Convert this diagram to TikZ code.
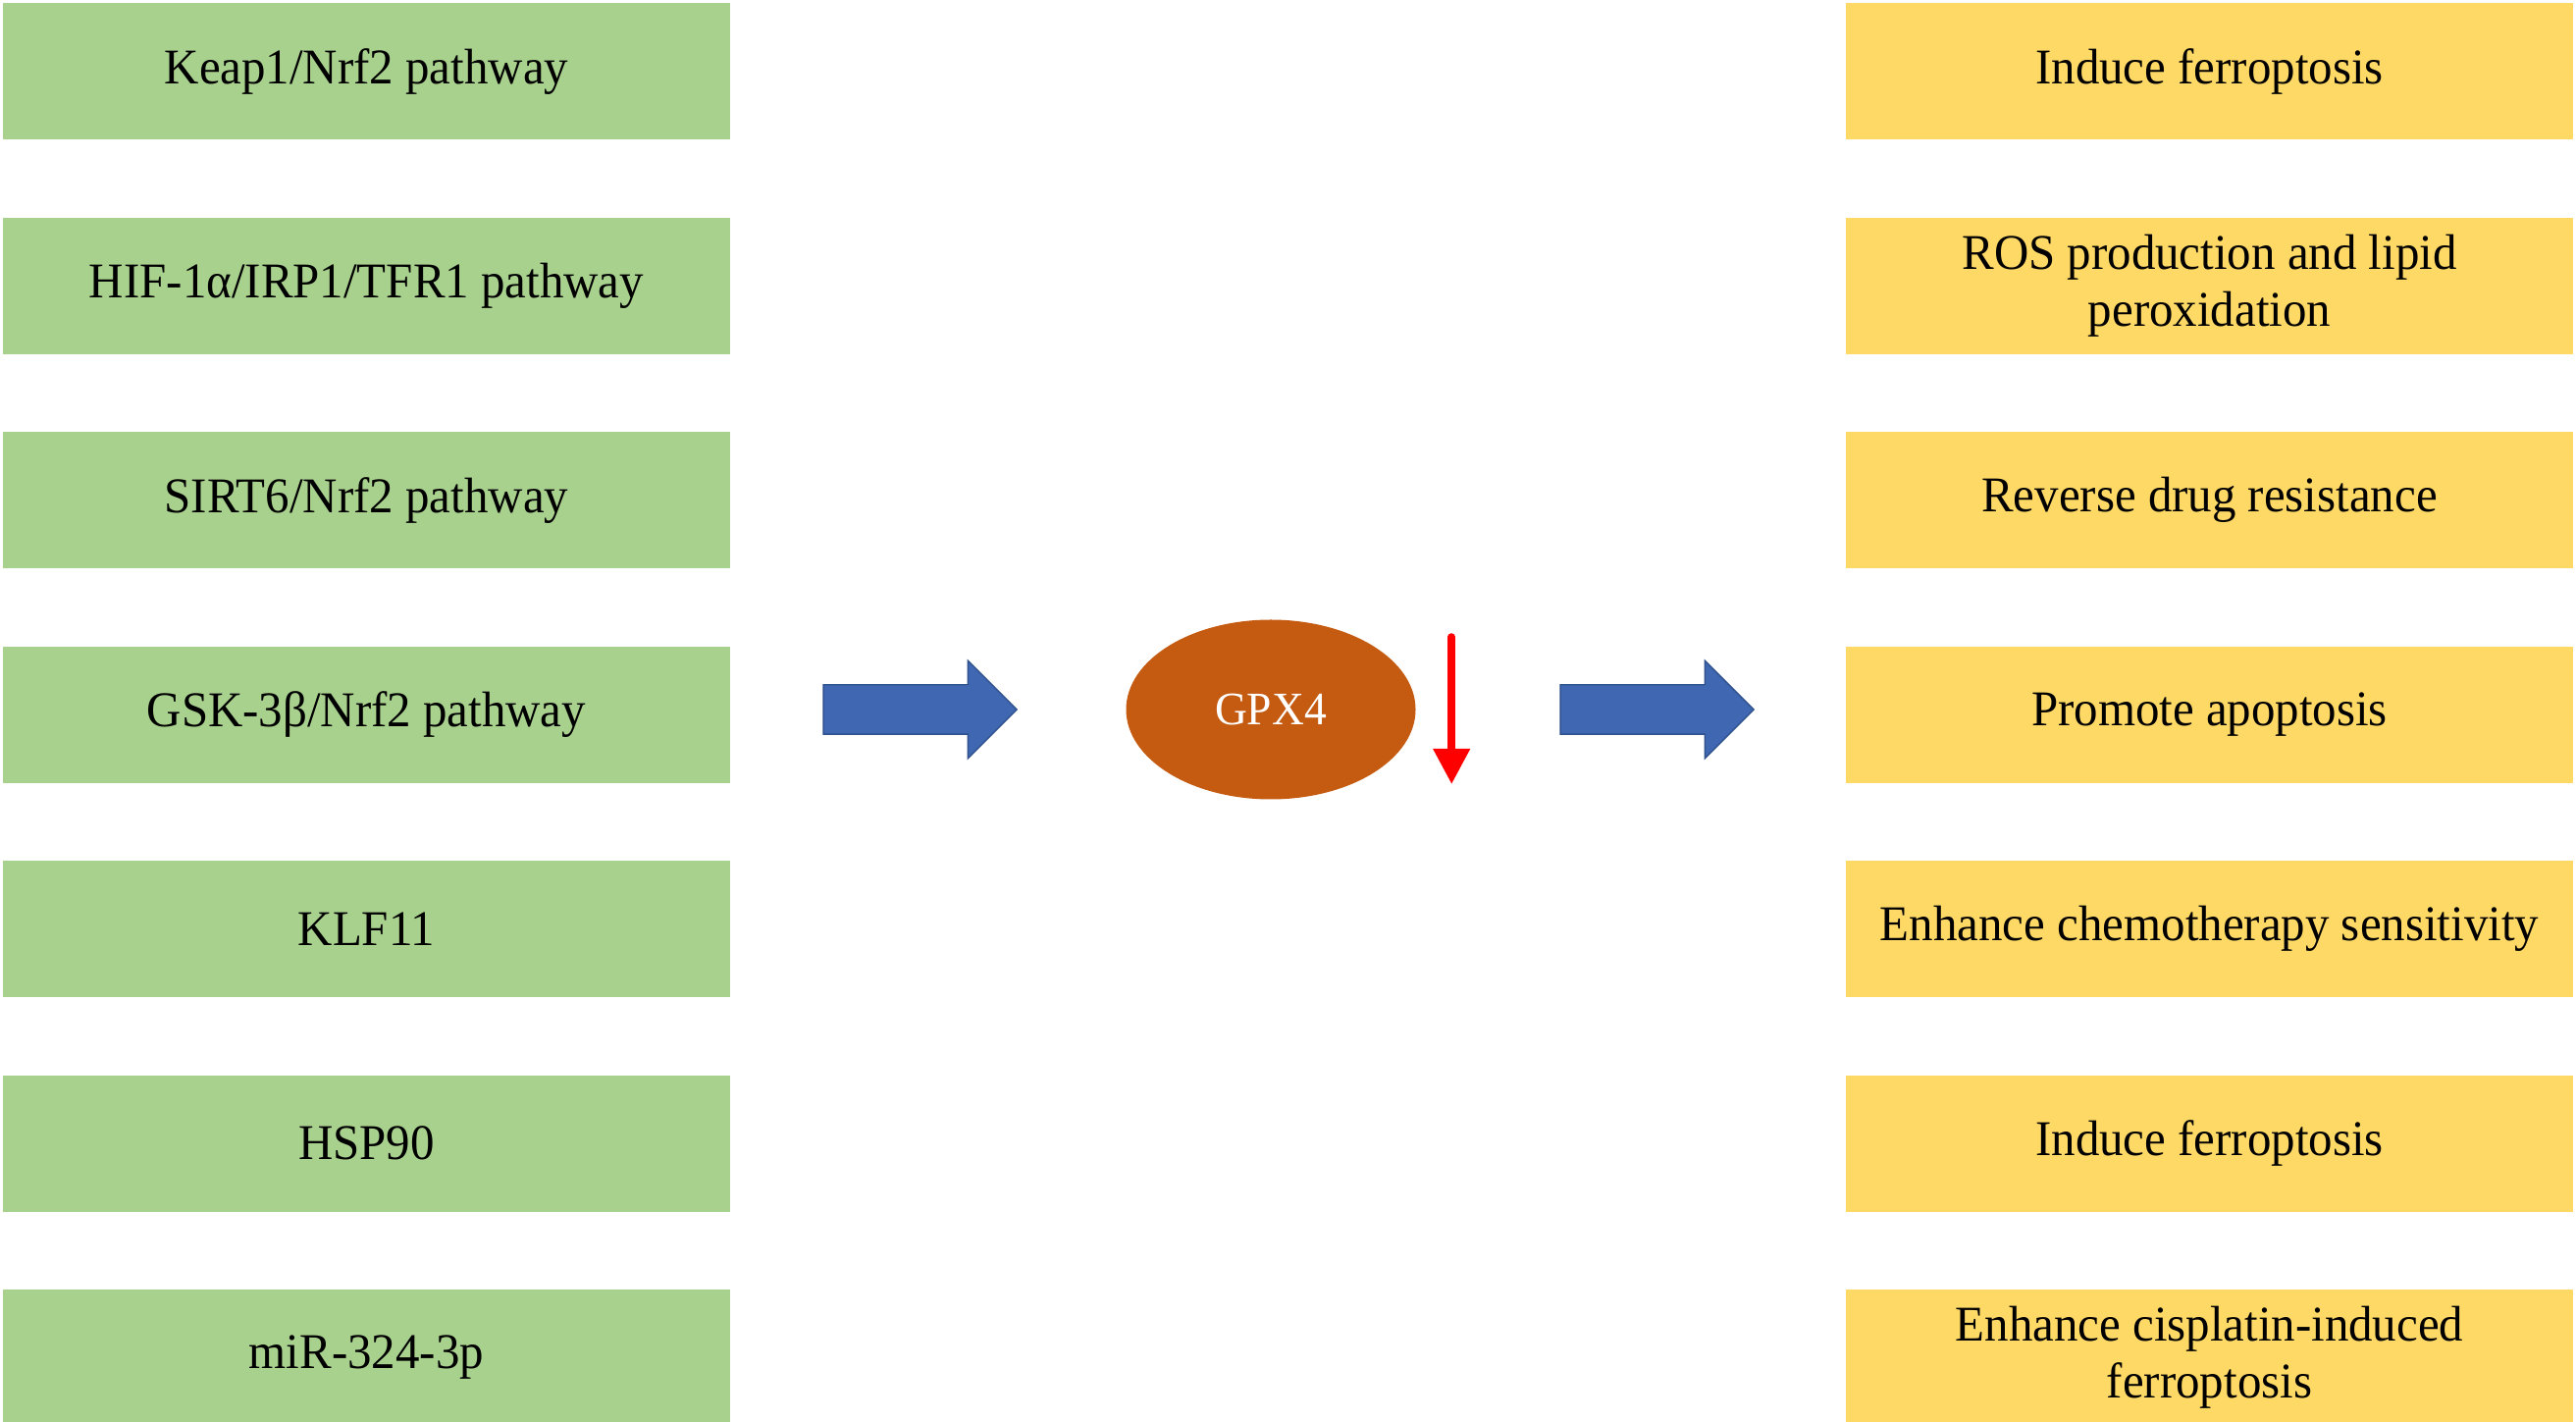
\documentclass[tikz,border=0pt]{standalone}
\usepackage{fontspec}
\setmainfont[FakeStretch=0.96]{Liberation Serif}
\usetikzlibrary{positioning,shapes.geometric,shapes.arrows,arrows.meta}
\definecolor{boxgreen}{HTML}{A9D18E}
\definecolor{boxgold}{HTML}{FFD966}
\definecolor{gpxorange}{HTML}{C55A11}
\definecolor{arrowblue}{HTML}{4068B2}
\definecolor{arrowedge}{HTML}{2F528F}
\begin{document}
\begin{tikzpicture}[x=0.1mm, y=-0.1mm, node distance={7.8mm},
    cause/.style = {fill=boxgreen, minimum width=74.1mm, minimum height=13.9mm, inner sep=0pt, align=center, font=\fontsize{14.5pt}{16.5pt}\selectfont},
    effect/.style = {cause, fill=boxgold},
    gpx/.style = {ellipse, fill=gpxorange, minimum width=29.5mm, minimum height=18.3mm, inner sep=0pt, text=white, font=\fontsize{13.5pt}{15pt}\selectfont},
    blockarrow/.style = {single arrow, fill=arrowblue, draw=arrowedge, thin, inner xsep=0pt, inner ysep=2.45mm, minimum height=19.7mm, single arrow head extend=2.45mm, single arrow tip angle=90},
    downarrow/.style = {red, line width=0.75mm, line cap=round, -{Triangle[width=3.6mm, length=3.6mm]}}]
    \useasboundingbox (0,0) rectangle (2625,1449);
    \node[cause] (l1) at (373.5,73) {Keap1/Nrf2 pathway};
    \node[cause] (l2) [below=of l1] {HIF-1α/IRP1/TFR1 pathway};
    \node[cause] (l3) [below=of l2] {SIRT6/Nrf2 pathway};
    \node[cause] (l4) [below=of l3] {GSK-3β/Nrf2 pathway};
    \node[cause] (l5) [below=of l4] {KLF11};
    \node[cause] (l6) [below=of l5] {HSP90};
    \node[cause] (l7) [below=of l6] {miR-324-3p};
    \node[effect] (r1) at (2251.5,73) {Induce ferroptosis};
    \node[effect] (r2) [below=of r1] {ROS production and lipid\\peroxidation};
    \node[effect] (r3) [below=of r2] {Reverse drug resistance};
    \node[effect] (r4) [below=of r3] {Promote apoptosis};
    \node[effect] (r5) [below=of r4] {Enhance chemotherapy sensitivity};
    \node[effect] (r6) [below=of r5] {Induce ferroptosis};
    \node[effect] (r7) [below=of r6] {Enhance cisplatin-induced\\ferroptosis};
    \node[gpx] (g) at (1295,723) {GPX4};
    \node[blockarrow] (a1) at (925,723) {};
    \node[blockarrow] (a2) at (1676,723) {};
    \draw[downarrow] ([xshift=3.6mm, yshift=7.4mm]g.east) -- ([xshift=3.6mm, yshift=-7.6mm]g.east);
\end{tikzpicture}
\end{document}
